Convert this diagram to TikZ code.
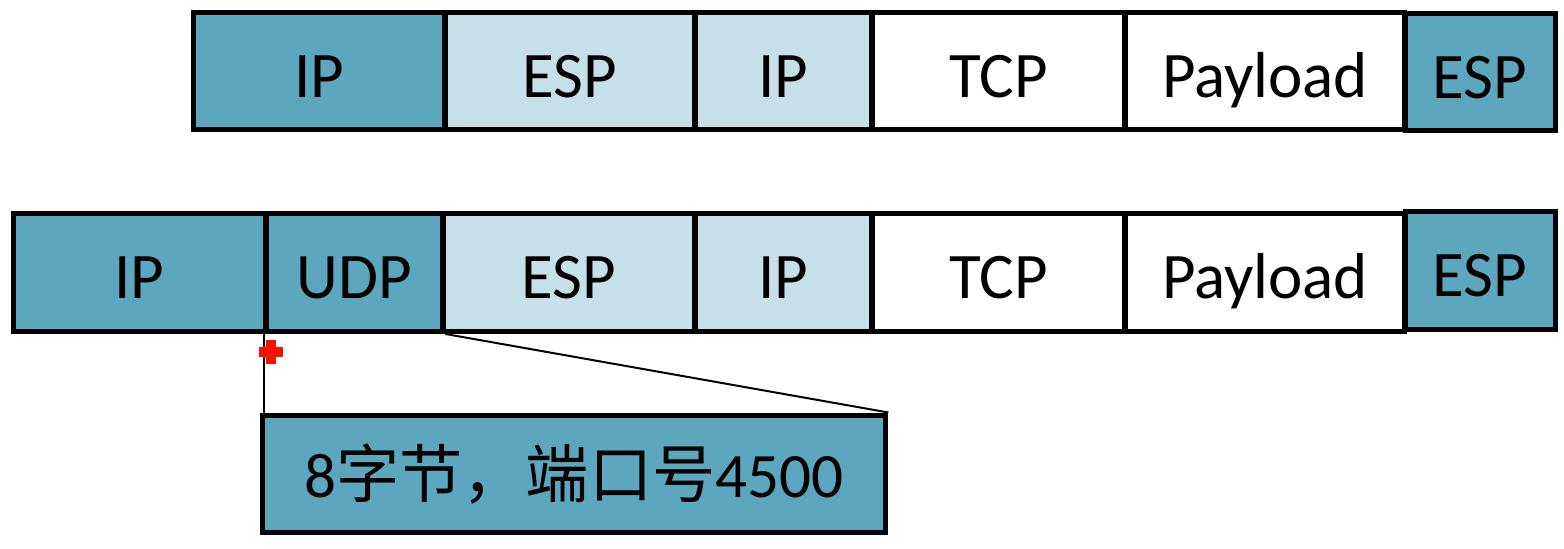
\documentclass[tikz,border=0pt]{standalone}
\usepackage{fontspec}
\setmainfont{Carlito}
\newfontfamily\cjk{Noto Sans CJK SC}
\usetikzlibrary{calc}

\definecolor{darkteal}{RGB}{92,167,189}
\definecolor{lightteal}{RGB}{198,224,231}

\tikzset{
	field/.style={draw=black, line width=0.1cm, rectangle, inner sep=0pt, minimum height=2.36cm, font=\fontsize{37}{40}\selectfont},
	cell/.style={field, text height=1.36cm, text depth=0.3cm},
	outer/.style={cell, fill=darkteal},
	inner/.style={cell, fill=lightteal},
	plain/.style={cell, fill=white},
	notebox/.style={field, fill=darkteal, font=\fontsize{36}{40}\selectfont},
	link/.style={draw=black, line width=0.04cm}
}

\begin{document}
\begin{tikzpicture}[x=0.02cm,y=0.02cm]
	\useasboundingbox (0,0) rectangle (1564,548);
	% tunnel mode packet
	\node[outer, minimum width=5.04cm] (ipa) at (319,477) {IP};
	\node[inner, minimum width=5.0cm] (espa) at (570,477) {ESP};
	\node[inner, minimum width=3.54cm] (inipa) at (783.5,477) {IP};
	\node[plain, minimum width=5.06cm] (tcpa) at (998.5,477) {TCP};
	\node[plain, minimum width=5.6cm] (loada) at (1265,477) {Payload};
	\node[outer, minimum width=3.0cm] (taila) at (1480,476) {ESP};
	
	% with UDP encapsulation
	\node[outer, minimum width=5.06cm] (ipb) at (139.5,275.5) {IP};
	\node[outer, minimum width=3.54cm] (udpb) at (354.5,275.5) {UDP};
	\node[inner, minimum width=5.04cm] (espb) at (569,275.5) {ESP};
	\node[inner, minimum width=3.54cm] (inipb) at (783.5,275.5) {IP};
	\node[plain, minimum width=5.06cm] (tcpb) at (998.5,275.5) {TCP};
	\node[plain, minimum width=5.6cm] (loadb) at (1265,275.5) {Payload};
	\node[outer, minimum width=3.0cm] (tailb) at (1480,277.5) {ESP};
	
	% UDP header note
	\node[notebox, minimum width=12.48cm] (note) at (574,74) {8{\cjk 字节，端口号}4500};
	\draw[link] (udpb.south west) -- (udpb.south west |- note.north);
	\draw[link] (udpb.south east) -- (note.north east);
	
	% cursor mark
	\fill[red!90!orange] (266,184) rectangle (276,208);
	\fill[red!90!orange] (259,191) rectangle (283,201);
\end{tikzpicture}
\end{document}
